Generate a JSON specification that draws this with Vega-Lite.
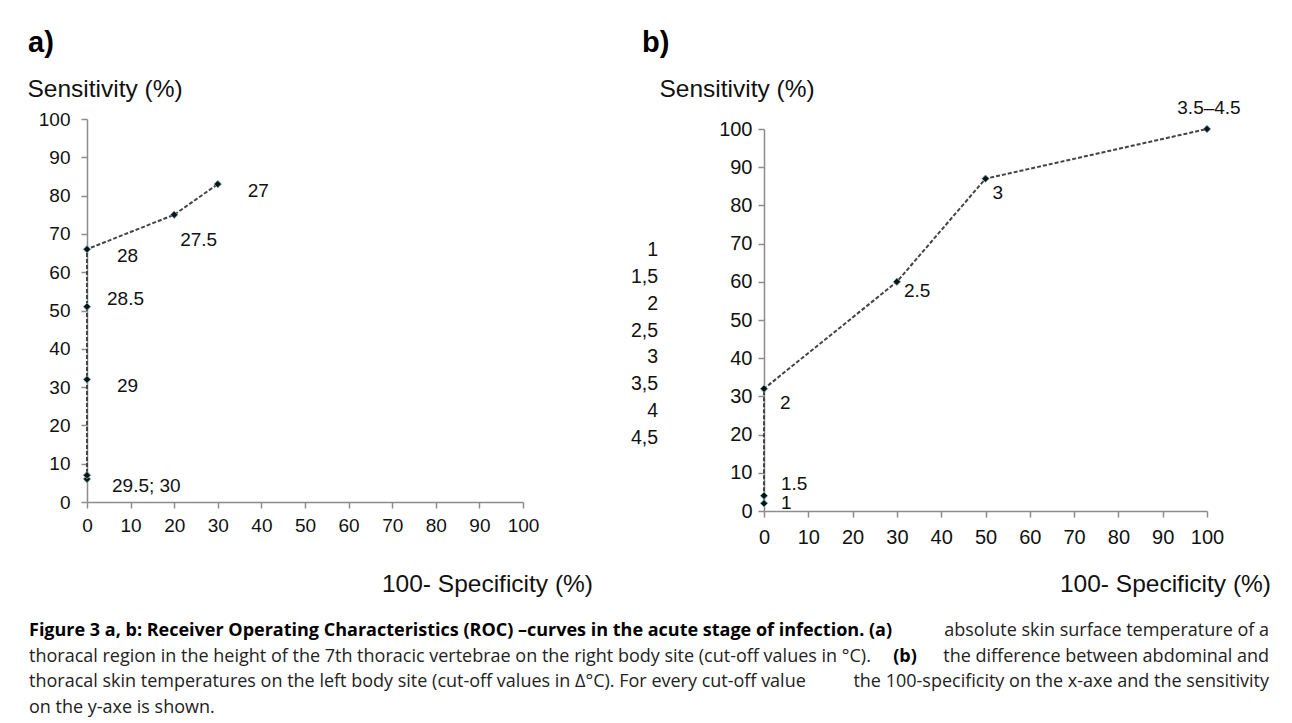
{
  "$schema": "https://vega.github.io/schema/vega-lite/v6.json",
  "background": "white",
  "padding": {"left": 27, "top": 29, "right": 5, "bottom": 3},
  "config": {
    "view": {"stroke": null},
    "font": "Liberation Sans",
    "axis": {
      "grid": false,
      "domainColor": "#8c8c8c",
      "tickColor": "#8c8c8c",
      "domainWidth": 1.5,
      "tickWidth": 1.5,
      "tickSize": 6,
      "labelColor": "#111",
      "labelFont": "Liberation Sans",
      "labelFontSize": 19,
      "labelOverlap": false,
      "labelFlush": false,
      "titleFont": "Liberation Sans",
      "titleFontSize": 24.5,
      "titleFontWeight": "normal",
      "titleColor": "#111"
    },
    "title": {"font": "Liberation Sans", "color": "#000"}
  },
  "datasets": {
    "rocA": [
      {"fpr": 0, "sens": 6, "label": ""},
      {"fpr": 0, "sens": 7, "label": "29.5; 30"},
      {"fpr": 0, "sens": 32, "label": "29"},
      {"fpr": 0, "sens": 51, "label": "28.5"},
      {"fpr": 0, "sens": 66, "label": "28"},
      {"fpr": 20, "sens": 75, "label": "27.5"},
      {"fpr": 30, "sens": 83, "label": "27"}
    ],
    "rocB": [
      {"fpr": 0, "sens": 2, "label": "1"},
      {"fpr": 0, "sens": 4, "label": "1.5"},
      {"fpr": 0, "sens": 32, "label": "2"},
      {"fpr": 30, "sens": 60, "label": "2.5"},
      {"fpr": 50, "sens": 87, "label": "3"},
      {"fpr": 100, "sens": 100, "label": "3.5–4.5"}
    ],
    "midList": [
      {"t": "1"}, {"t": "1,5"}, {"t": "2"}, {"t": "2,5"},
      {"t": "3"}, {"t": "3,5"}, {"t": "4"}, {"t": "4,5"}
    ],
    "capBold": [
      {"line": 1, "text": "Figure 3 a, b: Receiver Operating Characteristics (ROC) –curves in the acute stage of infection. (a)"}
    ],
    "capLeft": [
      {"line": 2, "text": "thoracal region in the height of the 7th thoracic vertebrae on the right body site (cut-off values in °C)."},
      {"line": 3, "text": "thoracal skin temperatures on the left body site (cut-off values in Δ°C). For every cut-off value"},
      {"line": 4, "text": "on the y-axe is shown."}
    ],
    "capRight": [
      {"line": 1, "text": "absolute skin surface temperature of a"},
      {"line": 2, "text": "the difference between abdominal and"},
      {"line": 3, "text": "the 100-specificity on the x-axe and the sensitivity"}
    ],
    "capMid": [
      {"line": 2, "text": "(b)"}
    ]
  },
  "vconcat": [
    {
      "hconcat": [
        {
          "width": 436,
          "height": 383,
          "data": {"name": "rocA"},
          "title": {"text": "a)", "fontSize": 29, "fontWeight": "bold", "anchor": "start", "frame": "group", "dx": -59, "dy": -14},
          "encoding": {
            "x": {
              "field": "fpr", "type": "quantitative",
              "scale": {"domain": [0, 100], "nice": false},
              "axis": {"values": [0, 10, 20, 30, 40, 50, 60, 70, 80, 90, 100], "title": "100- Specificity (%)", "titleX": 400, "titleY": 82, "titleAlign": "center", "titleBaseline": "middle", "labelPadding": 8}
            },
            "y": {
              "field": "sens", "type": "quantitative",
              "scale": {"domain": [0, 100], "nice": false},
              "axis": {"values": [0, 10, 20, 30, 40, 50, 60, 70, 80, 90, 100], "title": "Sensitivity (%)", "titleAngle": 0, "titleAlign": "left", "titleBaseline": "middle", "titleX": -60, "titleY": -30, "labelPadding": 11}
            }
          },
          "layer": [
            {"mark": {"type": "line", "strokeDash": [4, 2], "color": "#444", "strokeWidth": 2}, "encoding": {"order": {"field": "sens", "type": "quantitative"}}},
            {"mark": {"type": "point", "shape": "diamond", "filled": true, "size": 55, "color": "#111", "stroke": "#6fb7b7", "strokeWidth": 0.8, "opacity": 1}},
            {"transform": [{"filter": "indexof(['27','28','29'], datum.label) >= 0"}], "mark": {"type": "text", "align": "left", "baseline": "middle", "fontSize": 19, "color": "#111", "dx": 30, "dy": 7}, "encoding": {"text": {"field": "label"}}},
            {"transform": [{"filter": "datum.label == '29.5; 30'"}], "mark": {"type": "text", "align": "left", "baseline": "middle", "fontSize": 19, "color": "#111", "dx": 25, "dy": 11}, "encoding": {"text": {"field": "label"}}},
            {"transform": [{"filter": "datum.label == '27.5'"}], "mark": {"type": "text", "align": "left", "baseline": "middle", "fontSize": 19, "color": "#111", "dx": 6, "dy": 25}, "encoding": {"text": {"field": "label"}}},
            {"transform": [{"filter": "datum.label == '28.5'"}], "mark": {"type": "text", "align": "left", "baseline": "middle", "fontSize": 19, "color": "#111", "dx": 20, "dy": -8}, "encoding": {"text": {"field": "label"}}}
          ]
        },
        {
          "width": 29,
          "height": 383,
          "data": {"name": "midList"},
          "mark": {"type": "text", "align": "right", "baseline": "middle", "fontSize": 19.5, "color": "#111"},
          "encoding": {
            "x": {"datum": 1, "type": "quantitative", "scale": {"domain": [0, 1]}, "axis": null},
            "y": {"field": "t", "type": "ordinal", "sort": null, "scale": {"type": "point", "range": [131, 319], "padding": 0}, "axis": null},
            "text": {"field": "t"}
          }
        },
        {
          "width": 443,
          "height": 392,
          "data": {"name": "rocB"},
          "title": {"text": "b)", "fontSize": 29, "fontWeight": "bold", "anchor": "start", "frame": "group", "dx": -122, "dy": -14},
          "encoding": {
            "x": {
              "field": "fpr", "type": "quantitative",
              "scale": {"domain": [0, 100], "nice": false},
              "axis": {"values": [0, 10, 20, 30, 40, 50, 60, 70, 80, 90, 100], "title": "100- Specificity (%)", "titleX": 401, "titleY": 73, "titleAlign": "center", "titleBaseline": "middle", "labelPadding": 10, "labelFontSize": 20}
            },
            "y": {
              "field": "sens", "type": "quantitative",
              "scale": {"domain": [0, 100], "nice": false, "range": [392, 10]},
              "axis": {"values": [0, 10, 20, 30, 40, 50, 60, 70, 80, 90, 100], "title": "Sensitivity (%)", "titleAngle": 0, "titleAlign": "left", "titleBaseline": "middle", "titleX": -105, "titleY": -30, "labelPadding": 6, "labelFontSize": 20}
            }
          },
          "layer": [
            {"mark": {"type": "line", "strokeDash": [4, 2], "color": "#444", "strokeWidth": 2}, "encoding": {"order": {"field": "sens", "type": "quantitative"}}},
            {"mark": {"type": "point", "shape": "diamond", "filled": true, "size": 55, "color": "#111", "stroke": "#6fb7b7", "strokeWidth": 0.8, "opacity": 1}},
            {"transform": [{"filter": "datum.label == '1'"}], "mark": {"type": "text", "align": "left", "baseline": "middle", "fontSize": 19, "color": "#111", "dx": 17, "dy": 0}, "encoding": {"text": {"field": "label"}}},
            {"transform": [{"filter": "datum.label == '1.5'"}], "mark": {"type": "text", "align": "left", "baseline": "middle", "fontSize": 19, "color": "#111", "dx": 17, "dy": -12}, "encoding": {"text": {"field": "label"}}},
            {"transform": [{"filter": "datum.label == '2'"}], "mark": {"type": "text", "align": "left", "baseline": "middle", "fontSize": 19, "color": "#111", "dx": 16, "dy": 14}, "encoding": {"text": {"field": "label"}}},
            {"transform": [{"filter": "datum.label == '2.5'"}], "mark": {"type": "text", "align": "left", "baseline": "middle", "fontSize": 19, "color": "#111", "dx": 7, "dy": 9}, "encoding": {"text": {"field": "label"}}},
            {"transform": [{"filter": "datum.label == '3'"}], "mark": {"type": "text", "align": "left", "baseline": "middle", "fontSize": 19, "color": "#111", "dx": 7, "dy": 14}, "encoding": {"text": {"field": "label"}}},
            {"transform": [{"filter": "datum.label == '3.5–4.5'"}], "mark": {"type": "text", "align": "center", "baseline": "middle", "fontSize": 19, "color": "#111", "dx": 2, "dy": -21}, "encoding": {"text": {"field": "label"}}}
          ]
        }
      ],
      "spacing": 106,
      "bounds": "flush"
    },
    {
      "width": 1240,
      "height": 103,
      "layer": [
        {
          "data": {"name": "capBold"},
          "mark": {"type": "text", "align": "left", "baseline": "middle", "font": "Open Sans", "fontWeight": "bold", "fontSize": 18, "color": "#000", "dx": -58},
          "encoding": {
            "x": {"datum": 0, "type": "quantitative", "scale": {"domain": [0, 1]}, "axis": null},
            "y": {"field": "line", "type": "ordinal", "scale": {"type": "band", "domain": [1, 2, 3, 4], "paddingInner": 0, "paddingOuter": 0}, "axis": null},
            "text": {"field": "text"}
          }
        },
        {
          "data": {"name": "capLeft"},
          "mark": {"type": "text", "align": "left", "baseline": "middle", "font": "Open Sans", "fontSize": 18, "color": "#222", "dx": -58},
          "encoding": {
            "x": {"datum": 0, "type": "quantitative"},
            "y": {"field": "line", "type": "ordinal"},
            "text": {"field": "text"}
          }
        },
        {
          "data": {"name": "capRight"},
          "mark": {"type": "text", "align": "right", "baseline": "middle", "font": "Open Sans", "fontSize": 18, "color": "#222", "dx": -58},
          "encoding": {
            "x": {"datum": 1, "type": "quantitative"},
            "y": {"field": "line", "type": "ordinal"},
            "text": {"field": "text"}
          }
        },
        {
          "data": {"name": "capMid"},
          "mark": {"type": "text", "align": "center", "baseline": "middle", "font": "Open Sans", "fontWeight": "bold", "fontSize": 18, "color": "#000", "dx": -58},
          "encoding": {
            "x": {"datum": 0.7065, "type": "quantitative"},
            "y": {"field": "line", "type": "ordinal"},
            "text": {"field": "text"}
          }
        }
      ]
    }
  ],
  "spacing": 22
}
